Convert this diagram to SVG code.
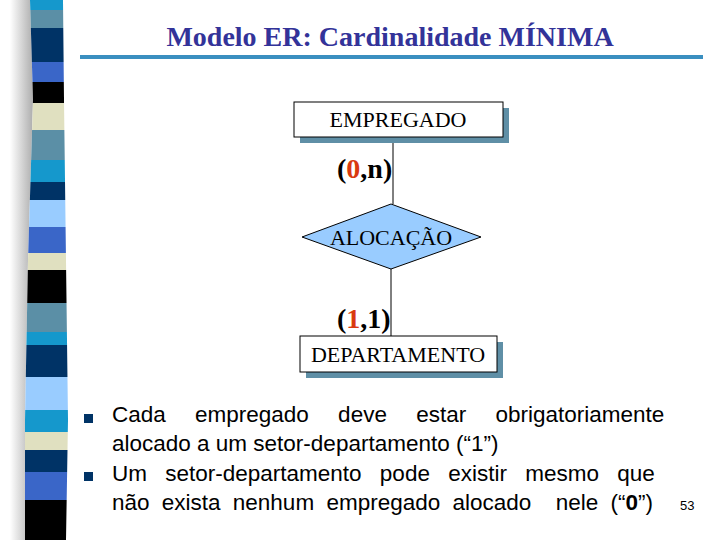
<svg xmlns="http://www.w3.org/2000/svg" width="720" height="540" viewBox="0 0 720 540">
<defs>
<style>
.ent{fill:#fff;stroke:#000;stroke-width:1}
.sh{fill:#5f8fa6}
.lbl{font-family:"Liberation Serif",serif;font-size:22px;text-anchor:middle}
.card{font-family:"Liberation Serif",serif;font-size:28px;font-weight:bold}
.red{fill:#d93a10}
.bul{font-family:"Liberation Sans",sans-serif;font-size:22.5px}
</style>
<clipPath id="strip"><path d="M30,0 L63,0 L64,100 L66,260 L68,420 L66,540 L25,540 L25,420 L28,260 L33,100 Z"/></clipPath>
<linearGradient id="g" x1="0" x2="1"><stop offset="0" stop-color="#fff"/><stop offset="1" stop-color="#999"/></linearGradient>
</defs>
<rect width="720" height="540" fill="#fff"/>
<path d="M10,0 L30,0 L33,100 L28,260 L25,420 L25,540 L10,540 Z" fill="url(#g)" opacity="0.8"/>
<g clip-path="url(#strip)">
<rect x="0" y="0" width="80" height="10" fill="#1598cc"/>
<rect x="0" y="10" width="80" height="18" fill="#5b8fa6"/>
<rect x="0" y="28" width="80" height="34" fill="#003366"/>
<rect x="0" y="62" width="80" height="20" fill="#3a66c8"/>
<rect x="0" y="82" width="80" height="21" fill="#000"/>
<rect x="0" y="103" width="80" height="27" fill="#e0e0c0"/>
<rect x="0" y="130" width="80" height="30" fill="#5b8fa6"/>
<rect x="0" y="160" width="80" height="22" fill="#1598cc"/>
<rect x="0" y="182" width="80" height="18" fill="#003366"/>
<rect x="0" y="200" width="80" height="27" fill="#99ccff"/>
<rect x="0" y="227" width="80" height="26" fill="#3a66c8"/>
<rect x="0" y="253" width="80" height="17" fill="#e0e0c0"/>
<rect x="0" y="270" width="80" height="33" fill="#000"/>
<rect x="0" y="303" width="80" height="29" fill="#5b8fa6"/>
<rect x="0" y="332" width="80" height="13" fill="#1598cc"/>
<rect x="0" y="345" width="80" height="32" fill="#003366"/>
<rect x="0" y="377" width="80" height="33" fill="#99ccff"/>
<rect x="0" y="410" width="80" height="22" fill="#1598cc"/>
<rect x="0" y="432" width="80" height="18" fill="#e0e0c0"/>
<rect x="0" y="450" width="80" height="22" fill="#003366"/>
<rect x="0" y="472" width="80" height="28" fill="#3a66c8"/>
<rect x="0" y="500" width="80" height="40" fill="#000"/>
</g>
<text x="390" y="46" text-anchor="middle" font-family="Liberation Serif,serif" font-size="28" font-weight="bold" fill="#333399">Modelo ER: Cardinalidade MÍNIMA</text>
<line x1="80" y1="57" x2="703" y2="57" stroke="#3a8fc0" stroke-width="4"/>
<g id="connectors" stroke="#000" stroke-width="1">
<line x1="393" y1="137" x2="393" y2="204"/>
<line x1="391" y1="269" x2="391" y2="336"/>
</g>
<g id="empregado">
<rect class="sh" x="300" y="108" width="209" height="35"/>
<rect class="ent" x="294" y="102" width="209" height="35"/>
<text class="lbl" x="398" y="127">EMPREGADO</text>
</g>
<text class="card" x="337" y="178">(<tspan class="red">0</tspan>,n)</text>
<g id="alocacao">
<polygon points="391,204 481,237 391,269 302,237" fill="#99ccff" stroke="#000" stroke-width="1"/>
<text class="lbl" x="391" y="245">ALOCAÇÃO</text>
</g>
<text class="card" x="337" y="328">(<tspan class="red">1</tspan>,1)</text>
<g id="departamento">
<rect class="sh" x="306" y="342" width="197" height="36"/>
<rect class="ent" x="300" y="336" width="197" height="36"/>
<text class="lbl" x="398" y="362">DEPARTAMENTO</text>
</g>
<rect x="84" y="414" width="9" height="9" fill="#003366"/>
<rect x="84" y="472" width="9" height="9" fill="#003366"/>
<g class="bul">
<text x="112" y="422" word-spacing="23">Cada empregado deve estar obrigatoriamente</text>
<text x="112" y="451">alocado a um setor-departamento (“1”)</text>
<text x="112" y="481" word-spacing="12">Um setor-departamento pode existir mesmo que</text>
<text x="112" y="510" xml:space="preserve" word-spacing="6">não exista nenhum empregado alocado  nele (“<tspan font-weight="bold">0</tspan>”)</text>
</g>
<text x="680" y="510" font-family="Liberation Sans,sans-serif" font-size="13">53</text>
</svg>
